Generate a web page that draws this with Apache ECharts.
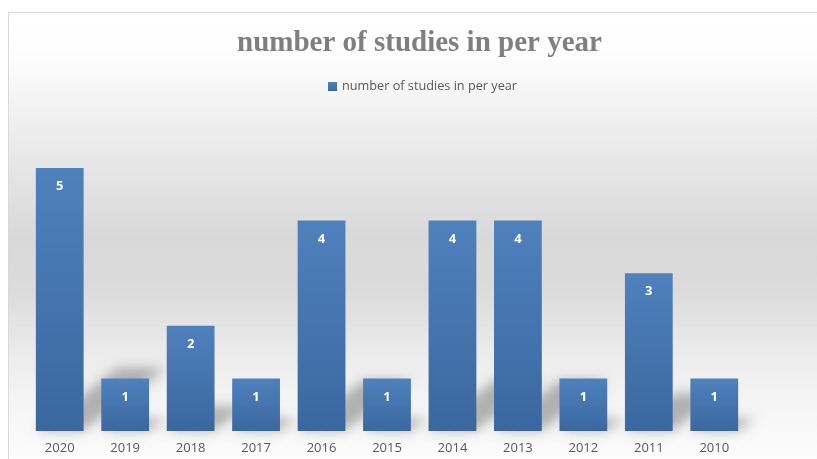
<!DOCTYPE html>
<html>
<head>
<meta charset="utf-8">
<script src="https://cdn.jsdelivr.net/npm/echarts@6/dist/echarts.min.js"></script>
<style>html,body{margin:0;padding:0;background:#fff}#c{width:817px;height:459px}</style>
</head>
<body>
<div id="c"></div>
<script>
const categories = ['2020','2019','2018','2017','2016','2015','2014','2013','2012','2011','2010'];
const values = [5,1,2,1,4,1,4,4,1,3,1];
const seriesName = 'number of studies in per year';
const titleText = 'number of studies in per year';

const chart = echarts.init(document.getElementById('c'), null, {renderer:'canvas'});
const barGrad = new echarts.graphic.LinearGradient(0,0,0,1,[
  {offset:0,color:'#4f81bd'},{offset:1,color:'#3b679f'}]);
const BAR_RATIO = 0.73;
chart.setOption({
  animation:false,
  backgroundColor:'#ffffff',
  graphic:[
    {type:'rect', z:-10, shape:{x:8,y:12,width:900,height:447},
     style:{fill:new echarts.graphic.LinearGradient(0,0,0,1,[
       {offset:0,color:'#ffffff'},{offset:0.1,color:'#fdfdfd'},{offset:0.31,color:'#e9e9e9'},
       {offset:0.5,color:'#d9d9d9'},{offset:0.62,color:'#dbdbdb'},{offset:0.77,color:'#ececec'},
       {offset:0.88,color:'#f5f5f5'},{offset:1,color:'#fcfcfc'}])}},
    {type:'line', z:-9, shape:{x1:8.5,y1:12.5,x2:900,y2:12.5}, style:{stroke:'#d9d9d9',lineWidth:1}},
    {type:'line', z:-9, shape:{x1:8.5,y1:12.5,x2:8.5,y2:470}, style:{stroke:'#d9d9d9',lineWidth:1}}
  ],
  title:{text:titleText, left:232, top:24,
    textStyle:{fontFamily:'Liberation Serif',fontWeight:'bold',fontSize:29,color:'#7f7f7f'}},
  legend:{data:[seriesName], left:328, top:80, padding:0, itemWidth:9, itemHeight:9, itemGap:3,
    icon:'rect',
    textStyle:{fontFamily:'Open Sans',fontSize:12.7,color:'#595959'}},
  grid:{left:27,right:70,top:168,bottom:28},
  xAxis:{type:'category',data:categories,
    axisLine:{show:false},axisTick:{show:false},
    axisLabel:{color:'#595959',fontFamily:'Open Sans',fontSize:13,margin:11}},
  yAxis:{type:'value',min:0,max:5,show:false,splitLine:{show:false}},
  series:[
    {type:'custom', name:'shadow', z:1, clip:false, silent:true,
     data: values.map((v,i)=>[i,v]),
     renderItem:function(params, api){
       const i = api.value(0), v = api.value(1);
       const base = api.coord([i,0]);
       const top = api.coord([i,v]);
       const w = api.size([1,0])[0]*BAR_RATIO;
       const h = (base[1]-top[1])*0.24;
       const dx = h*1.3;
       const off = 3000;
       const x0 = base[0]-w/2, x1 = base[0]+w/2, by = base[1];
       return {type:'polygon',
         shape:{points:[[x0-off,by],[x1-off,by],[x1+dx-off,by-h],[x0+dx-off,by-h]]},
         style:{fill:'rgba(0,0,0,1)',shadowBlur:12,shadowColor:'rgba(0,0,0,0.28)',shadowOffsetX:off,shadowOffsetY:0}};
     }},
    {type:'bar', name:seriesName, z:2, data:values, barCategoryGap:'27%',
     itemStyle:{color:barGrad},
     label:{show:true,position:'insideTop',distance:12,color:'#ffffff',fontWeight:'bold',
       fontFamily:'Open Sans',fontSize:13}}
  ]
});
</script>
</body>
</html>
